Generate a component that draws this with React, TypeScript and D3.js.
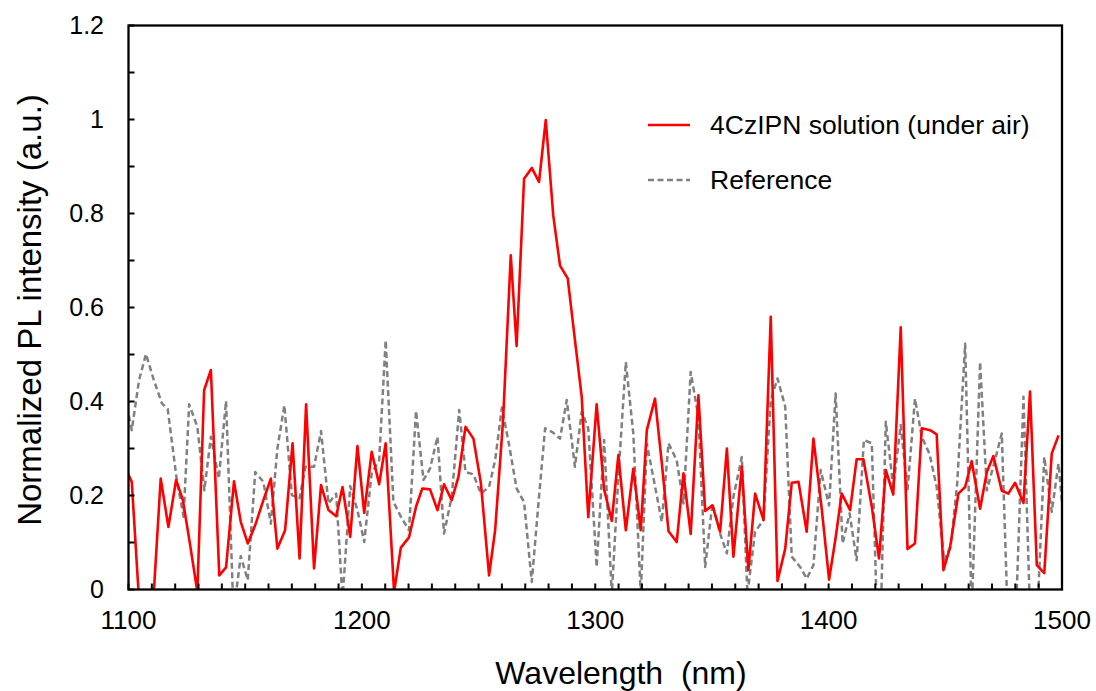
import React from "react";
import * as d3 from "d3";

// ---- data ----
const redNm = [1098.5, 1101.4, 1104.6, 1107.7, 1110.8, 1113.8, 1117.1, 1120.4, 1123.3, 1126.4, 1129.5, 1132.4, 1135.3, 1138.9, 1141.8, 1145.2, 1148.1, 1151.1, 1154.3, 1157.8, 1161.0, 1163.8, 1167.1, 1170.3, 1173.3, 1176.1, 1179.5, 1182.5, 1185.7, 1189.0, 1191.7, 1195.0, 1198.1, 1201.0, 1204.2, 1207.4, 1210.2, 1213.8, 1216.7, 1220.2, 1223.2, 1225.9, 1229.2, 1232.4, 1235.2, 1238.5, 1241.4, 1244.4, 1247.8, 1251.0, 1254.5, 1257.1, 1260.5, 1263.8, 1266.3, 1269.5, 1272.8, 1275.9, 1278.8, 1282.0, 1284.9, 1288.2, 1291.2, 1294.2, 1297.0, 1300.6, 1303.8, 1307.1, 1309.9, 1313.1, 1316.3, 1319.5, 1322.1, 1325.6, 1328.5, 1331.4, 1334.9, 1337.8, 1340.9, 1344.2, 1347.1, 1350.2, 1353.5, 1356.4, 1359.2, 1362.8, 1365.6, 1368.5, 1372.1, 1375.2, 1378.1, 1381.4, 1384.2, 1387.1, 1390.6, 1393.5, 1397.1, 1400.2, 1403.0, 1405.6, 1409.2, 1412.0, 1414.9, 1418.5, 1421.6, 1424.5, 1427.7, 1430.9, 1433.8, 1437.0, 1439.9, 1443.5, 1446.3, 1449.2, 1452.0, 1455.6, 1458.5, 1461.3, 1464.9, 1467.8, 1470.6, 1474.2, 1477.0, 1479.9, 1483.5, 1486.3, 1489.2, 1492.4, 1495.6, 1498.5];
const redVal = [0.26, 0.229, -0.03, -0.12, -0.01, 0.236, 0.133, 0.233, 0.19, 0.095, -0.005, 0.424, 0.467, 0.03, 0.047, 0.23, 0.144, 0.098, 0.137, 0.19, 0.236, 0.087, 0.126, 0.311, 0.066, 0.394, 0.045, 0.222, 0.169, 0.156, 0.218, 0.112, 0.305, 0.163, 0.293, 0.224, 0.311, -0.005, 0.089, 0.111, 0.176, 0.215, 0.213, 0.169, 0.224, 0.19, 0.24, 0.346, 0.321, 0.226, 0.03, 0.126, 0.36, 0.711, 0.518, 0.874, 0.897, 0.867, 0.999, 0.796, 0.689, 0.662, 0.535, 0.41, 0.154, 0.394, 0.213, 0.146, 0.286, 0.126, 0.257, 0.126, 0.339, 0.406, 0.27, 0.124, 0.101, 0.247, 0.118, 0.413, 0.167, 0.179, 0.123, 0.3, 0.07, 0.261, 0.041, 0.204, 0.148, 0.58, 0.018, 0.087, 0.227, 0.229, 0.123, 0.321, 0.169, 0.021, 0.11, 0.204, 0.169, 0.277, 0.277, 0.176, 0.066, 0.254, 0.202, 0.558, 0.086, 0.098, 0.343, 0.339, 0.33, 0.041, 0.089, 0.204, 0.218, 0.273, 0.172, 0.25, 0.284, 0.21, 0.204, 0.227, 0.184, 0.421, 0.052, 0.035, 0.289, 0.328];

const refNm = [1098.5, 1101.4, 1104.5, 1107.5, 1110.7, 1114.3, 1116.8, 1120.7, 1123.6, 1126.0, 1129.5, 1132.5, 1135.3, 1138.7, 1141.8, 1145.0, 1148.1, 1151.1, 1154.3, 1157.8, 1161.0, 1163.8, 1166.8, 1170.0, 1173.3, 1175.8, 1179.5, 1182.5, 1185.7, 1189.0, 1191.7, 1195.0, 1198.1, 1201.0, 1204.2, 1207.4, 1210.2, 1213.5, 1216.7, 1220.2, 1223.2, 1226.4, 1229.2, 1232.4, 1235.2, 1238.5, 1241.7, 1244.4, 1247.8, 1251.0, 1254.5, 1257.1, 1260.0, 1263.0, 1266.3, 1269.5, 1272.8, 1275.6, 1278.5, 1281.6, 1284.9, 1287.8, 1291.3, 1294.2, 1297.0, 1300.6, 1303.8, 1307.1, 1309.9, 1313.1, 1316.3, 1319.5, 1322.1, 1325.6, 1328.5, 1331.4, 1334.9, 1337.8, 1340.9, 1344.2, 1347.1, 1350.2, 1353.5, 1356.4, 1359.2, 1362.8, 1365.2, 1368.5, 1372.1, 1375.2, 1378.1, 1381.4, 1384.2, 1387.8, 1390.6, 1393.5, 1396.6, 1400.2, 1403.0, 1406.0, 1409.0, 1412.0, 1415.1, 1418.5, 1421.6, 1424.5, 1427.7, 1430.9, 1433.8, 1437.0, 1439.9, 1443.2, 1446.3, 1449.5, 1452.3, 1455.1, 1458.5, 1461.3, 1464.9, 1467.8, 1470.9, 1474.2, 1477.0, 1480.3, 1483.5, 1486.3, 1489.2, 1492.4, 1495.6, 1498.5, 1501.5];
const refVal = [0.41, 0.339, 0.445, 0.501, 0.448, 0.396, 0.384, 0.233, 0.155, 0.394, 0.346, 0.211, 0.325, 0.236, 0.401, -0.05, 0.071, 0.02, 0.25, 0.229, 0.14, 0.3, 0.392, 0.201, 0.194, 0.261, 0.261, 0.337, 0.183, 0.204, -0.02, 0.22, 0.169, 0.101, 0.247, 0.275, 0.53, 0.187, 0.155, 0.126, 0.38, 0.233, 0.257, 0.325, 0.119, 0.197, 0.382, 0.25, 0.245, 0.204, 0.218, 0.275, 0.387, 0.31, 0.215, 0.186, 0.016, 0.18, 0.343, 0.335, 0.321, 0.403, 0.261, 0.378, 0.343, 0.048, 0.318, -0.01, 0.24, 0.484, 0.332, -0.01, 0.31, 0.22, 0.144, 0.311, 0.275, 0.183, 0.463, 0.367, 0.048, 0.183, 0.119, 0.077, 0.197, 0.282, -0.01, 0.123, 0.148, 0.403, 0.449, 0.389, 0.07, 0.048, 0.023, 0.052, 0.254, 0.179, 0.417, 0.098, 0.162, 0.062, 0.318, 0.311, -0.2, 0.357, 0.218, 0.35, 0.211, 0.406, 0.325, 0.289, 0.218, 0.062, 0.091, 0.226, 0.523, -0.05, 0.484, 0.211, 0.268, 0.332, -0.1, -0.05, 0.41, -0.05, -0.08, 0.282, 0.165, 0.268, 0.1];

const xTicks = d3.range(1100, 1501, 10);
const xLabels = [1100, 1200, 1300, 1400, 1500];
const yTicks = d3.range(0, 13).map((d) => d / 10);
const yLabels = [0, 0.2, 0.4, 0.6, 0.8, 1, 1.2];

const seriesNames = ["4CzIPN solution (under air)", "Reference"];

const W = 1096;
const H = 691;
const left = 128.5;
const right = 1062;
const top = 25.5;
const bottom = 589.5;
const FONT = "'Liberation Sans', Arial, sans-serif";

export default function App() {
  const x = d3.scaleLinear().domain([1100, 1500]).range([left, right]);
  const y = d3.scaleLinear().domain([0, 1.2]).range([bottom, top]);

  const redData = redNm.map((n, i) => [n, redVal[i]] as [number, number]);
  const refData = refNm.map((n, i) => [n, refVal[i]] as [number, number]);

  const line = d3
    .line<[number, number]>()
    .x((d) => x(d[0]))
    .y((d) => y(d[1]));

  return (
    <svg
      width={W}
      height={H}
      style={{ position: "absolute", left: 0, top: 0, background: "#fff" }}
      fontFamily={FONT}
    >
      <defs>
        <clipPath id="plotClip">
          <rect x={left} y={top} width={right - left} height={bottom - top} />
        </clipPath>
      </defs>
      <rect x={0} y={0} width={W} height={H} fill="#fff" />

      <g clipPath="url(#plotClip)">
        <path
          d={line(refData) || ""}
          fill="none"
          stroke="#808080"
          strokeWidth={2.5}
          strokeDasharray="6,3.5"
          strokeLinejoin="round"
        />
        <path
          d={line(redData) || ""}
          fill="none"
          stroke="#ff0000"
          strokeWidth={2.6}
          strokeLinejoin="round"
        />
      </g>

      {/* ticks */}
      {yTicks.map((t) => (
        <line key={"yt" + t} x1={left} x2={left + 6} y1={y(t)} y2={y(t)} stroke="#000" strokeWidth={2} />
      ))}
      {xTicks.map((t) => (
        <line key={"xt" + t} x1={x(t)} x2={x(t)} y1={bottom} y2={bottom - 6} stroke="#000" strokeWidth={2} />
      ))}

      {/* frame */}
      <rect x={left} y={top} width={right - left} height={bottom - top} fill="none" stroke="#000" strokeWidth={2.3} />

      {/* tick labels */}
      {yLabels.map((t) => (
        <text key={"yl" + t} x={104} y={y(t)} dy="0.35em" textAnchor="end" fontSize={25} fill="#000">
          {String(t)}
        </text>
      ))}
      {xLabels.map((t) => (
        <text key={"xl" + t} x={x(t)} y={629} textAnchor="middle" fontSize={26} fill="#000">
          {String(t)}
        </text>
      ))}

      {/* axis titles */}
      <text x={621} y={684} textAnchor="middle" fontSize={32} fill="#000" style={{ whiteSpace: "pre" }}>
        {"Wavelength  (nm)"}
      </text>
      <text
        transform={`translate(41, 310) rotate(-90)`}
        textAnchor="middle"
        fontSize={33}
        fill="#000"
      >
        Normalized PL intensity (a.u.)
      </text>

      {/* legend */}
      <line x1={648} x2={690} y1={125} y2={125} stroke="#ff0000" strokeWidth={2.6} />
      <text x={710} y={134} fontSize={26.5} fill="#000">
        {seriesNames[0]}
      </text>
      <line x1={648} x2={690} y1={180} y2={180} stroke="#808080" strokeWidth={2.5} strokeDasharray="6,3.5" />
      <text x={710} y={189} fontSize={26.5} fill="#000">
        {seriesNames[1]}
      </text>
    </svg>
  );
}
